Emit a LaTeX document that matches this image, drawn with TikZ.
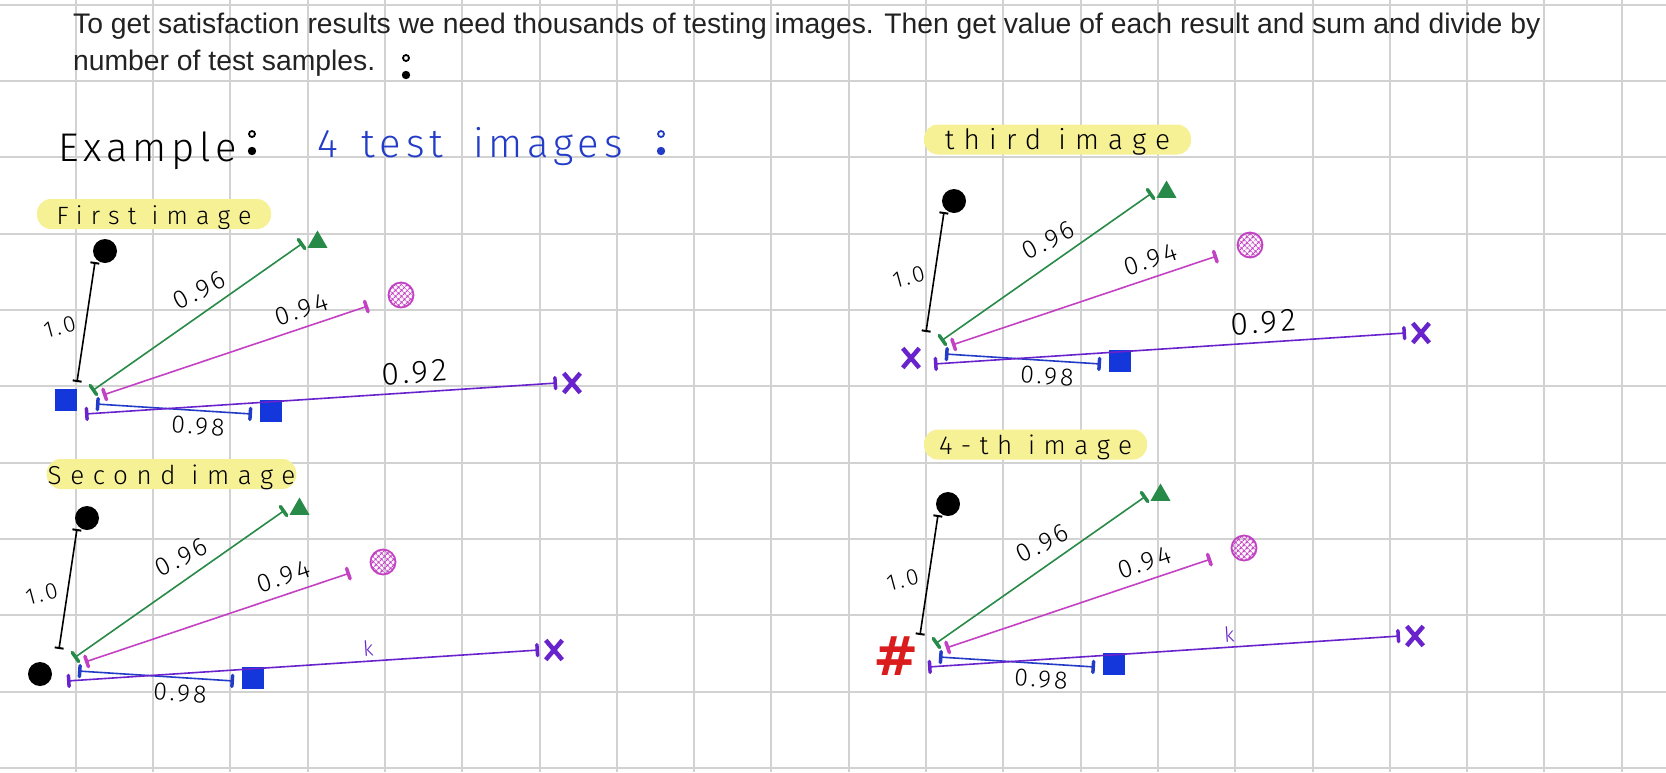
\documentclass[tikz,border=0pt]{standalone}
\usepackage{fontspec}
\setmainfont{Liberation Sans}
\newfontfamily\handfont{Fira Sans Light}[LetterSpace=12]
\newfontfamily\handwide{Fira Sans Light}[LetterSpace=33]
\newfontfamily\hashfont{DejaVu Sans}
\usetikzlibrary{positioning,arrows.meta,shapes.geometric,shapes.misc,patterns.meta}

\definecolor{gridgray}{RGB}{210,210,210}
\definecolor{printink}{RGB}{34,34,34}
\definecolor{hiliteyellow}{RGB}{247,241,150}
\definecolor{inkblue}{RGB}{35,60,200}
\definecolor{sqblue}{RGB}{20,55,220}
\definecolor{inkgreen}{RGB}{40,138,72}
\definecolor{inkmagenta}{RGB}{195,65,195}
\definecolor{inkpurple}{RGB}{105,35,205}
\definecolor{inkred}{RGB}{218,28,28}

\tikzset{
  gridline/.style={draw=gridgray, line width=2pt},
  typed/.style={font=\fontsize{28.3}{37}\selectfont, text=printink, inner sep=0pt},
  hand/.style={font=\handfont\fontsize{#1}{#1}\selectfont, inner sep=1pt},
  handwide/.style={font=\handwide\fontsize{#1}{#1}\selectfont, inner sep=1pt},
  hilite/.style={fill=hiliteyellow, rounded corners=14pt, inner sep=0pt, handwide=#1,
    text height=24pt, text depth=4pt, minimum height=29pt},
  blackdot/.style={circle, fill=black, minimum size=24pt, inner sep=0pt},
  greentri/.style={regular polygon, regular polygon sides=3, fill=inkgreen,
    minimum size=23pt, inner sep=0pt},
  hatchball/.style={circle, draw=inkmagenta, line width=1.8pt, minimum size=25pt,
    inner sep=0pt, pattern={Hatch[angle=45,distance=4pt,line width=1.1pt]},
    pattern color=inkmagenta},
  xmark/.style={cross out, draw=inkpurple, line width=4.5pt, minimum width=12pt,
    minimum height=15pt, inner sep=0pt},
  bluesq/.style={rectangle, fill=sqblue, minimum size=22pt, inner sep=0pt},
  hashmark/.style={text=inkred, font=\hashfont\bfseries\fontsize{54}{54}\selectfont,
    inner sep=0pt},
  ruler/.style={draw=black, line width=1.6pt,
    arrows={Bar[width=9pt,line width=2pt]-Bar[width=9pt,line width=2pt]}},
  limb/.style={draw=#1, line width=1.6pt,
    arrows={Bar[width=11pt,line width=3.5pt,round]-Bar[width=11pt,line width=3.5pt,round]}},
  bigval/.style={pos=0.70, sloped, above=7pt, hand=32},
  kval/.style={pos=0.64, sloped, above=3pt, hand=21, text=inkpurple},
}

\begin{document}
\begin{tikzpicture}[x=1pt, y=-1pt]
\useasboundingbox (0,0) rectangle (1666,772);
\fill[white] (0,0) rectangle (1666,772);
% grid paper
\foreach \k in {0,...,20}
  \draw[gridline] (75.7+77.3*\k,0) -- ++(0,772);
\foreach \k in {0,...,10}
  \draw[gridline] (0,4.6+76.34*\k) -- ++(1666,0);

% typed note
\node[typed, anchor=base west] (line1) at (73,33)
  {To get satisfaction results we need thousands of testing images. Then get value of each result and sum and divide by};
\node[typed, below=37pt of line1.base west, anchor=base west] (line2) {number of test samples.};
\draw[line width=1.8pt] (406,58) circle (3);
\fill (406,75) circle (4.2);

% handwritten heading
\node[hand=40, anchor=base west] (example) at (57,161) {Example};
\draw[line width=1.8pt] (252,134) circle (3);
\fill (252,151) circle (4.2);
\node[hand=40, text=inkblue, anchor=base west] (count) at (316,157)
  {4\hspace{24pt}test\hspace{30pt}images};
\draw[inkblue, line width=1.8pt] (661,134) circle (3);
\fill[inkblue] (661,151) circle (4.2);

% highlighted titles
\node[hilite=25, minimum width=234pt] (first) at (154,214) {First image};
\node[hilite=26, minimum width=247pt, minimum height=30pt] (second) at (171.5,474) {Second image};
\node[hilite=28, minimum width=267pt] (third) at (1057.5,139.5) {third image};
\node[hilite=26, minimum width=223pt] (fourth) at (1035.5,444.5) {4-th image};

% the four test images
\foreach \n/\ox/\oy/\src/\glyph/\sx/\sy/\lbl/\lsty in {
    1/90/395/bluesq/{}/24/4.5/0.92/bigval,
    2/72/662/blackdot/{}/32/12/k/kval,
    3/939/345/xmark/{}/28/13/0.92/bigval,
    4/933/648/hashmark/{\#}/37/8/k/kval}{
  \coordinate (o\n) at (\ox,\oy);
  \node[\src] (src\n) at ([shift={(-\sx,\sy)}]o\n) {\glyph};
  \node[blackdot] (dot\n) at ([shift={(15,-144)}]o\n) {};
  \node[greentri] (tri\n) at ([shift={(227.5,-153)}]o\n) {};
  \node[hatchball] (ball\n) at ([shift={(311,-100)}]o\n) {};
  \node[xmark] (x\n) at ([shift={(482,-12)}]o\n) {};
  \node[bluesq] (sq\n) at ([shift={(181,16)}]o\n) {};
  \coordinate (bt\n) at ([shift={(5,-133)}]o\n);
  \coordinate (bb\n) at ([shift={(-13,-13)}]o\n);
  \coordinate (gs\n) at ([shift={(2,-4)}]o\n);
  \coordinate (ge\n) at ([shift={(213,-152)}]o\n);
  \coordinate (ms\n) at ([shift={(13,0)}]o\n);
  \coordinate (me\n) at ([shift={(278,-89)}]o\n);
  \coordinate (ps\n) at ([shift={(-5,19)}]o\n);
  \coordinate (pe\n) at ([shift={(467,-12)}]o\n);
  \coordinate (bs\n) at ([shift={(6,9)}]o\n);
  \coordinate (be\n) at ([shift={(162,19)}]o\n);
  \draw[ruler] (bt\n) -- node[midway, left=9pt, hand=23, rotate=15] {1.0} (bb\n);
  \draw[limb=inkblue] (bs\n) -- node[pos=0.66, sloped, below=5pt, hand=25] {0.98} (be\n);
  \draw[limb=inkpurple] (ps\n) -- node[\lsty] {\lbl} (pe\n);
  \draw[limb=inkgreen] (gs\n) -- node[pos=0.56, sloped, above=10pt, rotate=-8, hand=26] {0.96} (ge\n);
  \draw[limb=inkmagenta] (ms\n) -- node[pos=0.77, sloped, above=7pt, hand=26] {0.94} (me\n);
}
\end{tikzpicture}
\end{document}
